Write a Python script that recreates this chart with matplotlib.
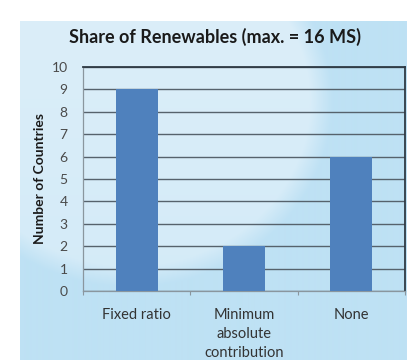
import numpy as np
import matplotlib
matplotlib.use("Agg")
import matplotlib.pyplot as plt
from matplotlib.colors import to_rgb

categories = ["Fixed ratio", "Minimum\nabsolute\ncontribution", "None"]
counts = [9, 2, 6]
yticks = list(range(0, 11))

W, H = 411, 360
fig = plt.figure(figsize=(W / 100, H / 100), dpi=100, facecolor="white")

# Light-blue backdrop panel with a soft, lighter swirl in the upper left
px0, py0, px1, py1 = 20, 21, 406, 360
bg_ax = fig.add_axes([px0 / W, 1 - py1 / H, (px1 - px0) / W, (py1 - py0) / H], zorder=0)
bg_ax.set_axis_off()
gw, gh = px1 - px0, py1 - py0
yy, xx = np.mgrid[0:gh, 0:gw]
base = np.array(to_rgb("#bee1f4"))
light = np.array(to_rgb("#dbeef9"))
cx, cy, rx, ry = 110, 80, 190, 175
d = np.sqrt(((xx - cx) / rx) ** 2 + ((yy - cy) / ry) ** 2)
w = np.clip((1.06 - d) / 0.12, 0, 1)
w *= np.clip(1 - (yy / gh) * 0.3, 0, 1)
img = base[None, None, :] * (1 - w[..., None]) + light[None, None, :] * w[..., None]
bg_ax.imshow(img, aspect="auto", extent=[0, gw, gh, 0], interpolation="bilinear")
bg_ax.set_xlim(0, gw)
bg_ax.set_ylim(gh, 0)

# Main bar chart
ax = fig.add_axes([83 / W, 1 - 291 / H, (405 - 83) / W, (291 - 67) / H], zorder=1)
ax.patch.set_alpha(0)
x = np.arange(len(categories))
ax.bar(x, counts, width=0.39, color="#4f81bd", zorder=3)
ax.set_xlim(-0.5, len(categories) - 0.5)
ax.set_ylim(0, 10)
ax.set_yticks(yticks)
ax.yaxis.grid(True, color="#56626c", linewidth=1.0, zorder=1)
ax.set_axisbelow(True)

font = "Lato"
ax.set_yticklabels([str(v) for v in yticks], fontsize=10, color="#4a4a4a", family=font)
ax.tick_params(axis="y", length=0, pad=11)
ax.set_xticks(x)
ax.set_xticklabels(categories, fontsize=10.5, color="#333333", family=font, linespacing=1.45)
ax.set_xticks([-0.5, 0.5, 1.5, 2.5], minor=True)
ax.tick_params(axis="x", which="major", length=0, pad=12)
ax.tick_params(axis="x", which="minor", length=3, color="#8a969e", width=0.8)

for side in ["top", "right"]:
    ax.spines[side].set_color("#2e3a44")
    ax.spines[side].set_linewidth(1.3)
ax.spines["left"].set_color("#8a969e")
ax.spines["left"].set_linewidth(0.9)
ax.spines["bottom"].set_color("#8a969e")
ax.spines["bottom"].set_linewidth(0.9)

ax.set_ylabel("Number of Countries", fontsize=10, fontweight="bold", family=font,
              color="#1a1a1a", labelpad=4)

fig.text(0.523, 1 - 37 / H, "Share of Renewables (max. = 16 MS)", ha="center", va="center",
         fontsize=13, fontweight="bold", family=font, color="#1a1a1a")

fig.savefig("out.png", dpi=100, facecolor="white")
